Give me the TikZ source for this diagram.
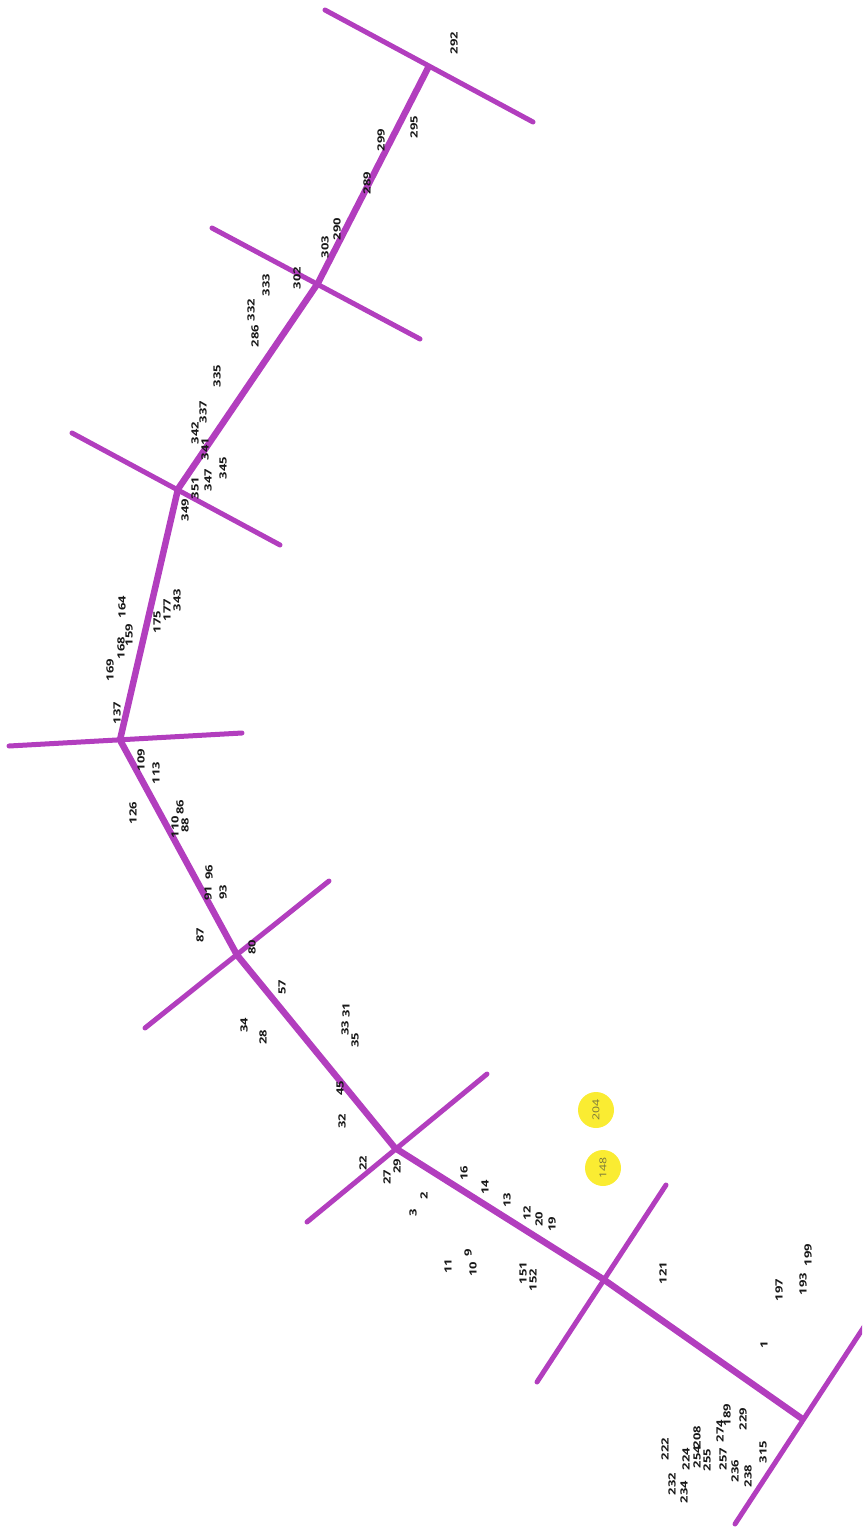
\documentclass[tikz,border=0pt]{standalone}
\usepackage{fontspec}
\setmainfont{Open Sans}
\definecolor{mag}{RGB}{178,62,190}
\definecolor{hly}{RGB}{250,236,50}
\definecolor{hlt}{RGB}{120,118,60}
\newcommand{\nm}[1]{\scalebox{1.3}[1]{#1}}
\tikzset{
  lbl/.style={rotate=90, inner sep=0pt, font=\fontsize{10}{10}\selectfont\bfseries, text=black!90},
  hl/.style={circle, fill=hly, draw=none, minimum size=36pt, inner sep=0pt, rotate=90, font=\fontsize{9.5}{9.5}\selectfont, text=hlt},
  mainline/.style={draw=mag, line width=6.5pt, line cap=round, line join=round},
  crossline/.style={draw=mag, line width=5pt, line cap=round}
}
\begin{document}
\begin{tikzpicture}[x=1pt,y=-1pt]
\useasboundingbox (0,0) rectangle (862,1528);
\clip (0,0) rectangle (862,1528);
% junctions
\coordinate (J0) at (801,1418);
\coordinate (J1) at (603,1279);
\coordinate (J2) at (395,1148);
\coordinate (J3) at (237,955);
\coordinate (J4) at (120,740);
\coordinate (J5) at (178,489);
\coordinate (J6) at (318,283);
\coordinate (J7) at (428,68);
% cross line ends
\coordinate (A7) at (325,10);  \coordinate (B7) at (533,122);
\coordinate (A6) at (212,228); \coordinate (B6) at (420,339);
\coordinate (A5) at (72,433);  \coordinate (B5) at (280,545);
\coordinate (A4) at (9,746);   \coordinate (B4) at (242,733);
\coordinate (A3) at (145,1028);\coordinate (B3) at (329,881);
\coordinate (A2) at (307,1222);\coordinate (B2) at (487,1074);
\coordinate (A1) at (537,1382);\coordinate (B1) at (666,1185);
\coordinate (A0) at (735,1524);\coordinate (B0) at (875,1310);
% cross lines
\foreach \i in {0,...,7}{\draw[crossline] (A\i) -- (B\i);}
% main path
\draw[mainline] (J0) -- (J1) -- (J2) -- (J3) -- (J4) -- (J5) -- (J6) -- (J7);
% highlighted
\node[hl] (n204) at (596,1110) {\nm{204}};
\node[hl] (n148) at (603,1168) {\nm{148}};
% labels
\node[lbl] (n292) at (454,43) {\nm{292}};
\node[lbl] (n295) at (414,127) {\nm{295}};
\node[lbl] (n299) at (381,140) {\nm{299}};
\node[lbl] (n289) at (367,183) {\nm{289}};
\node[lbl] (n290) at (337,229) {\nm{290}};
\node[lbl] (n303) at (325,247) {\nm{303}};
\node[lbl] (n302) at (297,278) {\nm{302}};
\node[lbl] (n333) at (266,285) {\nm{333}};
\node[lbl] (n332) at (251,310) {\nm{332}};
\node[lbl] (n286) at (255,336) {\nm{286}};
\node[lbl] (n335) at (217,376) {\nm{335}};
\node[lbl] (n337) at (203,412) {\nm{337}};
\node[lbl] (n342) at (195,433) {\nm{342}};
\node[lbl] (n341) at (205,449) {\nm{341}};
\node[lbl] (n345) at (223,468) {\nm{345}};
\node[lbl] (n347) at (208,480) {\nm{347}};
\node[lbl] (n351) at (195,488) {\nm{351}};
\node[lbl] (n349) at (185,510) {\nm{349}};
\node[lbl] (n164) at (122,607) {\nm{164}};
\node[lbl] (n343) at (177,600) {\nm{343}};
\node[lbl] (n177) at (167,610) {\nm{177}};
\node[lbl] (n175) at (157,622) {\nm{175}};
\node[lbl] (n159) at (129,635) {\nm{159}};
\node[lbl] (n168) at (121,648) {\nm{168}};
\node[lbl] (n169) at (110,670) {\nm{169}};
\node[lbl] (n137) at (117,713) {\nm{137}};
\node[lbl] (n109) at (141,760) {\nm{109}};
\node[lbl] (n113) at (156,773) {\nm{113}};
\node[lbl] (n126) at (133,813) {\nm{126}};
\node[lbl] (n86) at (180,807) {\nm{86}};
\node[lbl] (n110) at (175,827) {\nm{110}};
\node[lbl] (n88) at (185,825) {\nm{88}};
\node[lbl] (n96) at (209,872) {\nm{96}};
\node[lbl] (n91) at (208,893) {\nm{91}};
\node[lbl] (n93) at (223,892) {\nm{93}};
\node[lbl] (n87) at (200,935) {\nm{87}};
\node[lbl] (n80) at (252,947) {\nm{80}};
\node[lbl] (n57) at (282,987) {\nm{57}};
\node[lbl] (n34) at (244,1025) {\nm{34}};
\node[lbl] (n28) at (263,1037) {\nm{28}};
\node[lbl] (n31) at (346,1010) {\nm{31}};
\node[lbl] (n33) at (345,1028) {\nm{33}};
\node[lbl] (n35) at (355,1040) {\nm{35}};
\node[lbl] (n45) at (340,1088) {\nm{45}};
\node[lbl] (n32) at (342,1121) {\nm{32}};
\node[lbl] (n22) at (363,1163) {\nm{22}};
\node[lbl] (n27) at (387,1177) {\nm{27}};
\node[lbl] (n29) at (397,1166) {\nm{29}};
\node[lbl] (n16) at (464,1173) {\nm{16}};
\node[lbl] (n14) at (485,1187) {\nm{14}};
\node[lbl] (n2) at (424,1196) {\nm{2}};
\node[lbl] (n13) at (507,1200) {\nm{13}};
\node[lbl] (n3) at (413,1213) {\nm{3}};
\node[lbl] (n12) at (527,1213) {\nm{12}};
\node[lbl] (n20) at (539,1219) {\nm{20}};
\node[lbl] (n19) at (552,1224) {\nm{19}};
\node[lbl] (n9) at (468,1253) {\nm{9}};
\node[lbl] (n11) at (448,1266) {\nm{11}};
\node[lbl] (n10) at (473,1269) {\nm{10}};
\node[lbl] (n151) at (523,1273) {\nm{151}};
\node[lbl] (n152) at (533,1280) {\nm{152}};
\node[lbl] (n121) at (663,1273) {\nm{121}};
\node[lbl] (n199) at (808,1255) {\nm{199}};
\node[lbl] (n197) at (779,1290) {\nm{197}};
\node[lbl] (n193) at (803,1284) {\nm{193}};
\node[lbl] (n1) at (764,1345) {\nm{1}};
\node[lbl] (n189) at (727,1415) {\nm{189}};
\node[lbl] (n229) at (743,1419) {\nm{229}};
\node[lbl] (n274) at (720,1431) {\nm{274}};
\node[lbl] (n208) at (697,1437) {\nm{208}};
\node[lbl] (n222) at (665,1449) {\nm{222}};
\node[lbl] (n224) at (686,1459) {\nm{224}};
\node[lbl] (n254) at (697,1457) {\nm{254}};
\node[lbl] (n255) at (707,1460) {\nm{255}};
\node[lbl] (n257) at (723,1459) {\nm{257}};
\node[lbl] (n315) at (763,1452) {\nm{315}};
\node[lbl] (n236) at (735,1471) {\nm{236}};
\node[lbl] (n238) at (748,1476) {\nm{238}};
\node[lbl] (n232) at (672,1484) {\nm{232}};
\node[lbl] (n234) at (684,1492) {\nm{234}};
\end{tikzpicture}
\end{document}
